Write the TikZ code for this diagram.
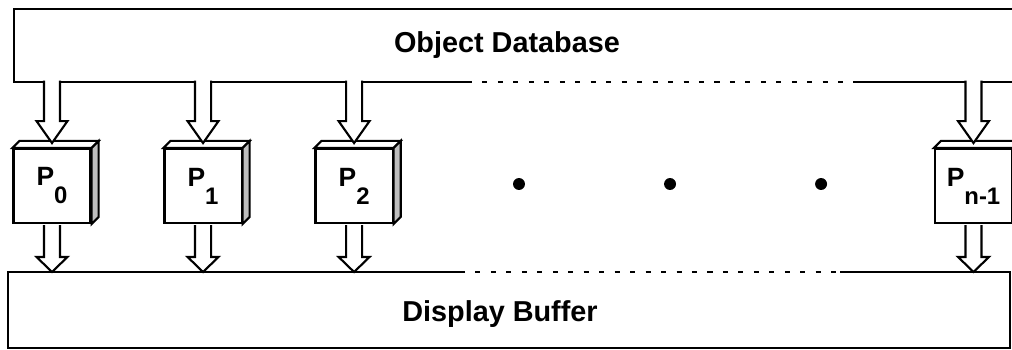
\documentclass[tikz,border=0pt]{standalone}
\usepackage{fontspec}
\setmainfont{Liberation Sans}
\usetikzlibrary{calc}
\newcommand{\procidx}[1]{\raisebox{-12.8pt}{\fontsize{17}{18}\selectfont #1}}

\begin{document}
\begin{tikzpicture}[x=0.025cm,y=0.025cm,node distance=3.775cm,
		line width=1.5pt,
		proc/.style={draw,fill=white,minimum width=54.8pt,minimum height=52.6pt,
			inner sep=0pt,font=\bfseries\fontsize{18.8}{20}\selectfont},
		bustext/.style={font=\bfseries\fontsize{20.5}{24}\selectfont},
		dot/.style={circle,fill,inner sep=0pt,minimum size=8.5pt},
		gap/.style={dash pattern=on 3.6pt off 7.4pt,dash phase=3.6pt},
		fat arrow/.style 2 args={fill=white,to path={
			let \p1=(\tikztostart),\p2=(\tikztotarget) in
			(\x1-5.7pt,\y1+#2) -- (\x1-5.7pt,\y2+#1) -- (\x1-11pt,\y2+#1) -- (\x1,\y2)
			-- (\x1+11pt,\y2+#1) -- (\x1+5.7pt,\y2+#1) -- (\x1+5.7pt,\y1+#2)}}]
	
	\useasboundingbox (0,0) rectangle (1012,349);
	\clip (0,0) rectangle (1012,349);
	
	% object database
	\coordinate (dbNE) at (1030,340);
	\coordinate (dbNW) at (14,340);
	\coordinate (dbSW) at (14,267);
	\coordinate (dbSE) at (1030,267);
	\coordinate (dbgapL) at (472,267);
	\coordinate (dbgapR) at (853,267);
	\draw (dbNE) -- (dbNW) -- (dbSW) -- (dbgapL);
	\draw[gap] (dbgapL) -- (dbgapR);
	\draw (dbgapR) -- (dbSE);
	\node[bustext] (db) at (507,304) {Object Database};
	
	% display buffer
	\coordinate (bufNW) at (8,77);
	\coordinate (bufSE) at (1010,1);
	\coordinate (bufNE) at (1010,77);
	\coordinate (bufgapL) at (465,77);
	\coordinate (bufgapR) at (840,77);
	\draw (bufgapL) -- (bufNW) |- (bufSE) -- (bufNE) -- (bufgapR);
	\draw[gap] (bufgapL) -- (bufgapR);
	\node[bustext] (buf) at (500,35) {Display Buffer};
	
	% processors
	\node[proc] (P0) at (52,163) {P\procidx{0}};
	\node[proc] (P1) [right of=P0] {P\procidx{1}};
	\node[proc] (P2) [right of=P1] {P\procidx{2}};
	\node[proc] (Pn) at (973.5,163) {P\procidx{n-1}};
	\foreach \k in {P0,P1,P2,Pn}{
		\draw[fill=white] (\k.north west) -- ++(5pt,5pt) -- ($(\k.north east)+(5pt,5pt)$) -- (\k.north east) -- cycle;
		\draw[fill=gray!50] (\k.north east) -- ++(5pt,5pt) -- ($(\k.south east)+(5pt,5pt)$) -- (\k.south east) -- cycle;
	}
	
	\node[dot] (d1) at (519,165) {};
	\node[dot] (d2) [right of=d1] {};
	\node[dot] (d3) [right of=d2] {};
	
	% arrows
	\foreach \k in {P0,P1,P2,Pn}
		\draw[fat arrow={10.7pt}{-0.8pt}] (\k.south) to (\k.south |- bufNW);
	\foreach \k in {P0,P1,P2,Pn}
		\draw[fat arrow={15.6pt}{0.9pt}] (\k.north |- dbSW) to ($(\k.north)+(0,3.5pt)$);
	
\end{tikzpicture}
\end{document}
